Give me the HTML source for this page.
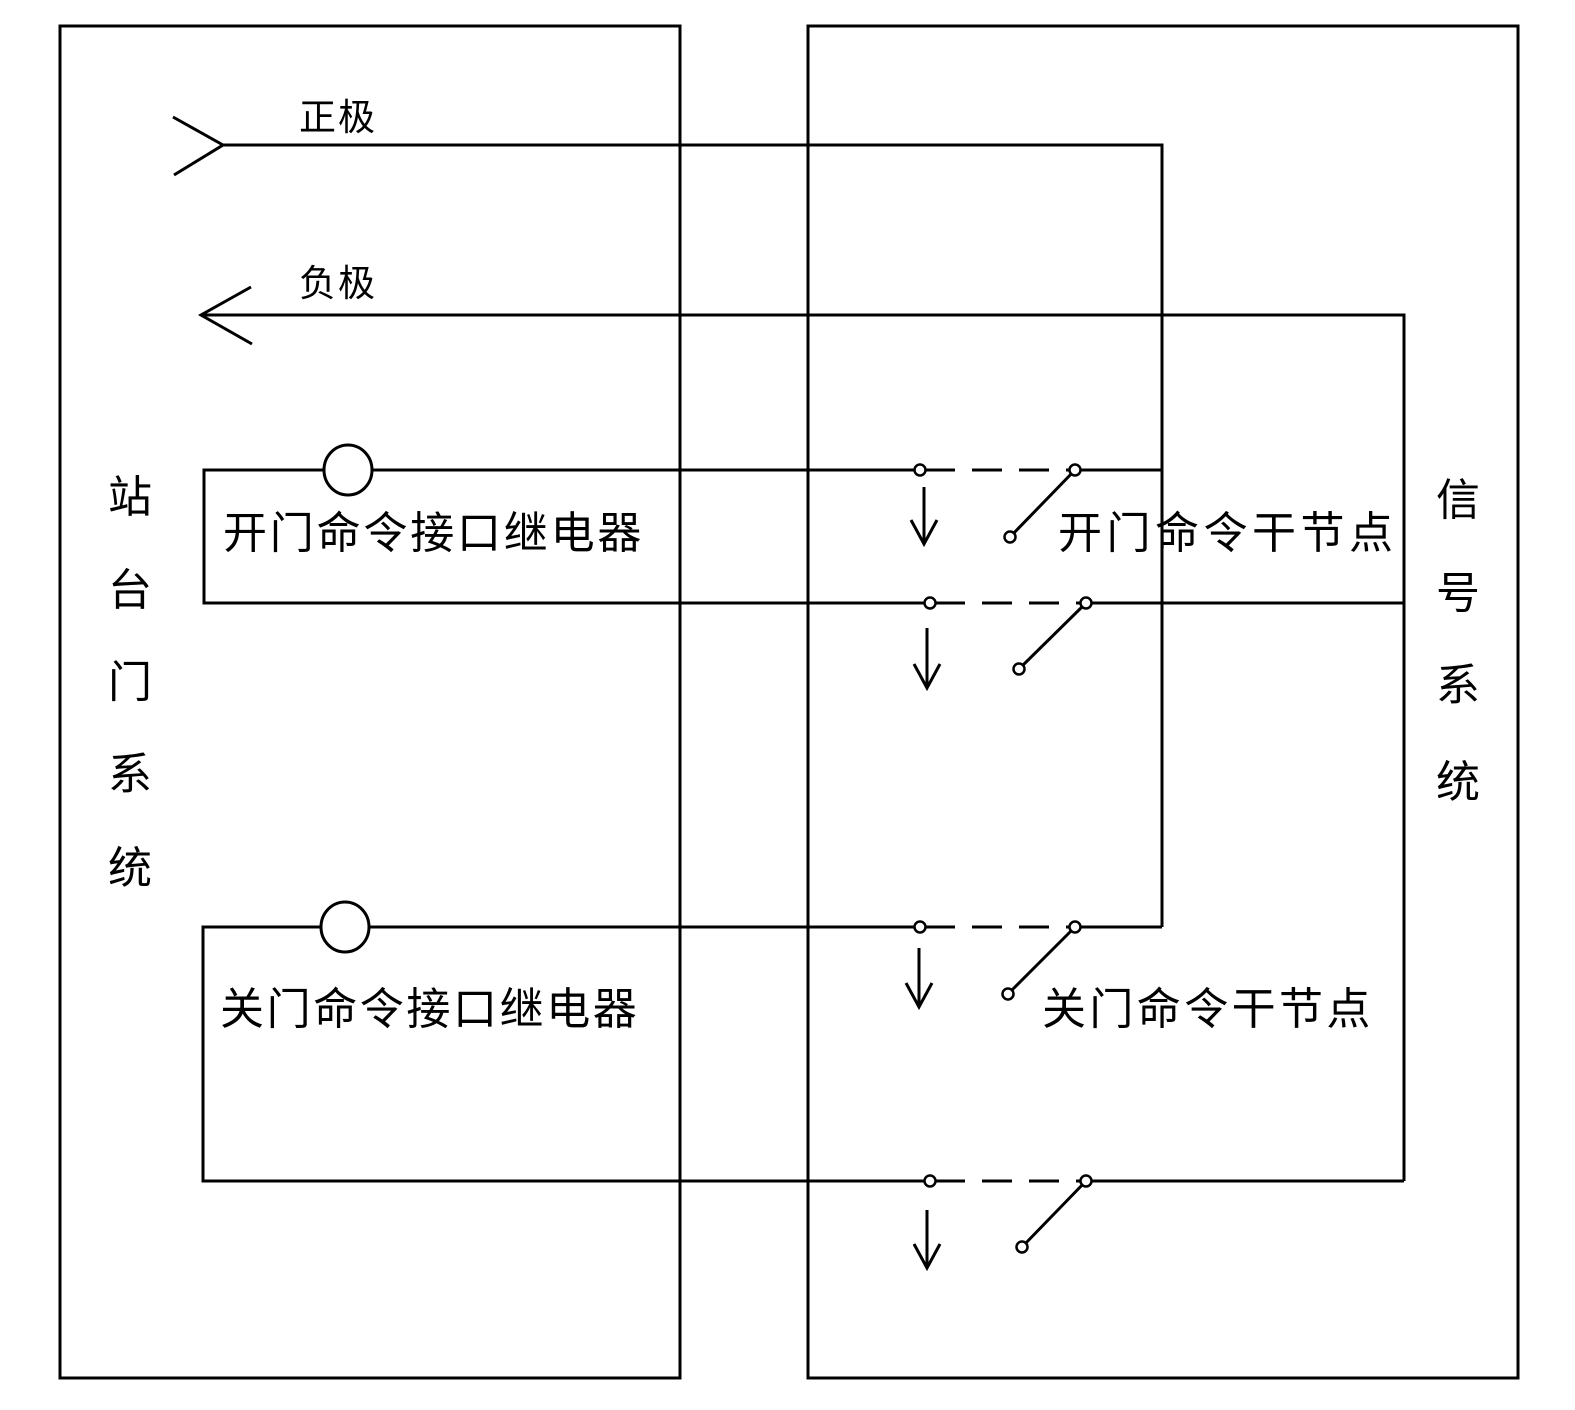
<!DOCTYPE html>
<html><head><meta charset="utf-8"><style>
html,body{margin:0;padding:0;background:#fff;}
svg{display:block;}
text{font-family:"Liberation Sans","Noto Sans CJK SC",sans-serif;fill:#000;}
</style></head><body>
<svg width="1575" height="1410" viewBox="0 0 1575 1410" xmlns="http://www.w3.org/2000/svg">
<g fill="none" stroke="#000" stroke-width="3">
<rect x="60" y="26" width="620" height="1352"/>
<rect x="808" y="26" width="710" height="1352"/>
<polyline points="173,117 223,145 174,175"/>
<polyline points="223,145 1162,145 1162,927"/>
<polyline points="251,287 201,315 252,344"/>
<polyline points="201,315 1404,315 1404,1181"/>
<polyline points="918,470 204,470 204,603 924,603"/>
<line x1="1080" y1="470" x2="1162" y2="470"/>
<line x1="1091" y1="603" x2="1404" y2="603"/>
<polyline points="918,927 203,927 203,1181 924,1181"/>
<line x1="1080" y1="927" x2="1162" y2="927"/>
<line x1="1091" y1="1181" x2="1404" y2="1181"/>
<g stroke-dasharray="30,17">
<line x1="925" y1="470" x2="1070" y2="470"/>
<line x1="935" y1="603" x2="1081" y2="603"/>
<line x1="925" y1="927" x2="1070" y2="927"/>
<line x1="935" y1="1181" x2="1081" y2="1181"/>
</g>
<line x1="1075" y1="470" x2="1010" y2="537"/>
<line x1="1086" y1="603" x2="1019" y2="669"/>
<line x1="1075" y1="927" x2="1008" y2="994"/>
<line x1="1086" y1="1181" x2="1022" y2="1247"/>
<polyline points="924,487 924,544"/><polyline points="911,520 924,544 937,520"/>
<polyline points="927,628 927,688"/><polyline points="914,664 927,688 940,664"/>
<polyline points="919,948 919,1007"/><polyline points="906,983 919,1007 932,983"/>
<polyline points="927,1210 927,1268"/><polyline points="914,1244 927,1268 940,1244"/>
</g>
<g fill="#fff" stroke="#000" stroke-width="3">
<ellipse cx="348" cy="470" rx="24" ry="25"/>
<ellipse cx="345" cy="927" rx="24" ry="25"/>
</g>
<g fill="#fff" stroke="#000" stroke-width="2.5">
<circle cx="920" cy="470" r="5.5"/><circle cx="1075" cy="470" r="5.5"/><circle cx="1010" cy="537" r="5.5"/>
<circle cx="930" cy="603" r="5.5"/><circle cx="1086" cy="603" r="5.5"/><circle cx="1019" cy="669" r="5.5"/>
<circle cx="920" cy="927" r="5.5"/><circle cx="1075" cy="927" r="5.5"/><circle cx="1008" cy="994" r="5.5"/>
<circle cx="930" cy="1181" r="5.5"/><circle cx="1086" cy="1181" r="5.5"/><circle cx="1022" cy="1247" r="5.5"/>
</g>
<text x="299" y="130" font-size="37" letter-spacing="2">正极</text>
<text x="299" y="296" font-size="37" letter-spacing="2">负极</text>
<text x="223" y="548" font-size="44" letter-spacing="2.8">开门命令接口继电器</text>
<text x="1058" y="548" font-size="44" letter-spacing="4.5">开门命令干节点</text>
<text x="220" y="1024" font-size="44" letter-spacing="2.6">关门命令接口继电器</text>
<text x="1042" y="1024" font-size="44" letter-spacing="3.4">关门命令干节点</text>
<g font-size="44" text-anchor="middle">
<text x="130" y="512">站</text>
<text x="130" y="605">台</text>
<text x="130" y="697">门</text>
<text x="130" y="789">系</text>
<text x="130" y="883">统</text>
<text x="1458" y="515">信</text>
<text x="1458" y="608">号</text>
<text x="1458" y="700">系</text>
<text x="1458" y="797">统</text>
</g>
</svg>
</body></html>
